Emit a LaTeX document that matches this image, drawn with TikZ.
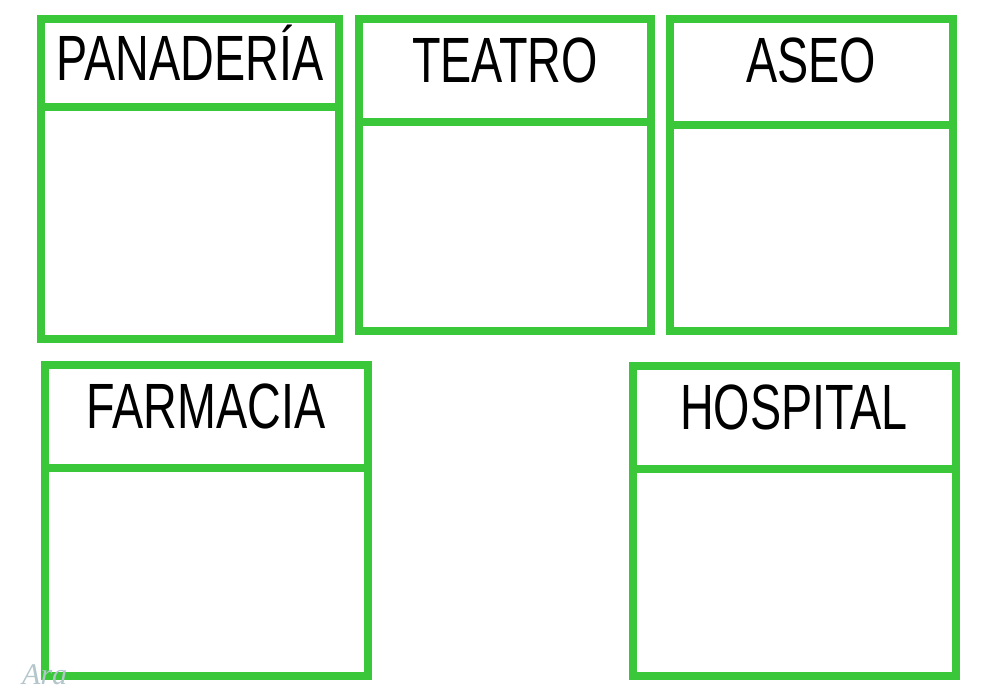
\documentclass[tikz,border=0pt]{standalone}
\usepackage{fontspec}
\newfontfamily\lblfont[FakeStretch=0.73]{Liberation Sans}
\newfontfamily\markfont{Liberation Serif}
\definecolor{boxgreen}{RGB}{58,200,58}
\definecolor{markgray}{RGB}{178,198,204}
\begin{document}
\begin{tikzpicture}[x=1pt,y=-1pt,
  box/.style={draw=boxgreen, line width=8pt, inner sep=0pt, outer sep=0pt},
  divider/.style={draw=boxgreen, line width=8pt},
  lbl/.style={font={\lblfont\fontsize{64}{64}\selectfont}, anchor=base, inner sep=0pt, text=black},
  wmark/.style={font={\markfont\itshape\fontsize{30}{30}\selectfont}, text=markgray, anchor=base west, inner sep=0pt}]
\useasboundingbox[fill=white] (0,0) rectangle (1000,692);
% boxes
\node[box, minimum width=298pt, minimum height=320pt] (b1) at (190,179) {};
\node[box, minimum width=292pt, minimum height=312pt] (b2) at (505,175) {};
\node[box, minimum width=282.5pt, minimum height=312pt] (b3) at (811.25,175) {};
\node[box, minimum width=322.5pt, minimum height=311pt] (b4) at (206.25,520.5) {};
\node[box, minimum width=323.5pt, minimum height=310.5pt] (b5) at (794.25,520.75) {};
% dividers
\coordinate (d1) at (0,107.5);
\coordinate (d2) at (0,122.5);
\coordinate (d3) at (0,125);
\coordinate (d4) at (0,468);
\coordinate (d5) at (0,469);
\draw[divider] (b1.west |- d1) -- (b1.east |- d1);
\draw[divider] (b2.west |- d2) -- (b2.east |- d2);
\draw[divider] (b3.west |- d3) -- (b3.east |- d3);
\draw[divider] (b4.west |- d4) -- (b4.east |- d4);
\draw[divider] (b5.west |- d5) -- (b5.east |- d5);
% labels
\node[lbl] (t1) at (190,81) {PANADERÍA};
\node[lbl] (t2) at (505,83) {TEATRO};
\node[lbl] (t3) at (811,83) {ASEO};
\node[lbl] (t4) at (206,428) {FARMACIA};
\node[lbl] (t5) at (794,429) {HOSPITAL};
% watermark
\node[wmark] (wm) at (22,684) {Ara};
\end{tikzpicture}
\end{document}
